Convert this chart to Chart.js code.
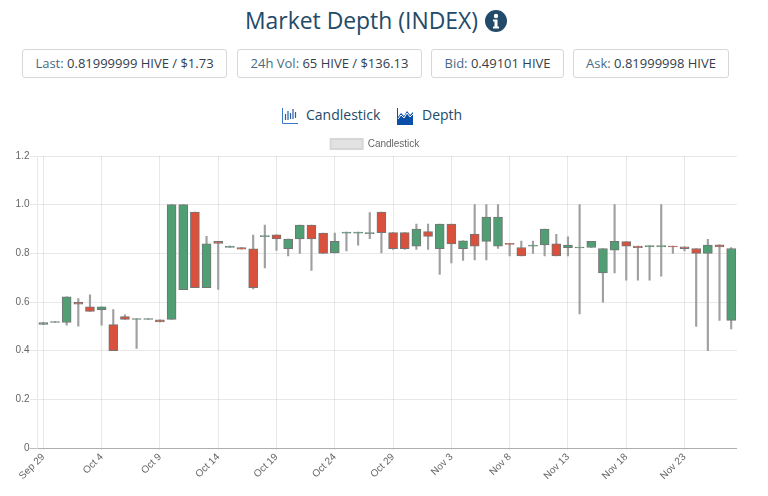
<!DOCTYPE html>
<html>
<head>
<meta charset="utf-8">
<title>Market Depth (INDEX)</title>
<script src="https://cdn.jsdelivr.net/npm/chart.js@4/dist/chart.umd.min.js"></script>
<style>
  html, body { margin: 0; padding: 0; background: #fff; overflow: hidden; }
  body { width: 768px; height: 496px; position: relative; font-family: "Open Sans", sans-serif; color: #234a68; }
  .title { position: absolute; left: 245px; top: 3px; font-size: 22.9px; line-height: 36px; white-space: nowrap; color: #234a68; }
  .info { position: absolute; left: 485px; top: 10px; }
  .stat { position: absolute; top: 49px; height: 27px; line-height: 27px; border: 1px solid #d5d8da; border-radius: 3px; text-align: center; font-size: 13px; color: #33404c; white-space: nowrap; }
  .stat span { color: #4a6b85; }
  .tab { position: absolute; top: 104px; font-size: 14px; line-height: 22px; color: #234a68; white-space: nowrap; }
  #chartWrap { position: absolute; left: 13px; top: 137px; }
</style>
</head>
<body>
<div class="title">Market Depth (INDEX)</div>
<svg class="info" width="22" height="22" viewBox="0 0 22 22">
  <circle cx="11" cy="11" r="11" fill="#234a68"/>
  <circle cx="11" cy="6" r="2.2" fill="#fff"/>
  <path d="M8 9.5h4.5v7H14v2H8v-2h1.5v-5H8z" fill="#fff"/>
</svg>

<div class="stat" style="left:22px;width:203px"><span>Last:</span> 0.81999999 HIVE / $1.73</div>
<div class="stat" style="left:237px;width:183px"><span>24h Vol:</span> 65 HIVE / $136.13</div>
<div class="stat" style="left:431px;width:131px"><span>Bid:</span> 0.49101 HIVE</div>
<div class="stat" style="left:573px;width:154px"><span>Ask:</span> 0.81999998 HIVE</div>

<svg style="position:absolute;left:282px;top:108px" width="16" height="17" viewBox="0 0 16 17">
  <path d="M0.5 0v15.5H16" fill="none" stroke="#3a78c8" stroke-width="1"/>
  <path d="M3.5 6v6M6 3v9M8.5 5v6M11 1v10M13.5 4v6" stroke="#2a5fa8" stroke-width="1.2"/>
</svg>
<div class="tab" style="left:306px">Candlestick</div>
<svg style="position:absolute;left:397px;top:108px" width="16" height="17" viewBox="0 0 16 17">
  <path d="M0 0h1v9l3-4 3 3 3-5 3 4 3-3v13H0z" fill="#0b4fa8"/>
  <path d="M1 11l3-4 3 3 3-5 3 4 3-3" fill="none" stroke="#fff" stroke-width="1"/>
</svg>
<div class="tab" style="left:422px">Depth</div>

<div id="chartWrap"><canvas id="candles" width="724" height="346"></canvas></div>

<script>
(() => {
  'use strict';

  /* ===== Data ===== */
  const labels = [
    'Sep 29', 'Sep 30', 'Oct 1', 'Oct 2', 'Oct 3', 'Oct 4', 'Oct 5', 'Oct 6', 'Oct 7', 'Oct 8',
    'Oct 9', 'Oct 10', 'Oct 11', 'Oct 12', 'Oct 13', 'Oct 14', 'Oct 15', 'Oct 16', 'Oct 17', 'Oct 18',
    'Oct 19', 'Oct 20', 'Oct 21', 'Oct 22', 'Oct 23', 'Oct 24', 'Oct 25', 'Oct 26', 'Oct 27', 'Oct 28',
    'Oct 29', 'Oct 30', 'Oct 31', 'Nov 1', 'Nov 2', 'Nov 3', 'Nov 4', 'Nov 5', 'Nov 6', 'Nov 7',
    'Nov 8', 'Nov 9', 'Nov 10', 'Nov 11', 'Nov 12', 'Nov 13', 'Nov 14', 'Nov 15', 'Nov 16', 'Nov 17',
    'Nov 18', 'Nov 19', 'Nov 20', 'Nov 21', 'Nov 22', 'Nov 23', 'Nov 24', 'Nov 25', 'Nov 26', 'Nov 27'
  ];
  const opens = [
    0.508, 0.516, 0.516, 0.599, 0.580, 0.569, 0.507, 0.540, 0.529, 0.529,
    0.527, 0.529, 0.651, 0.970, 0.659, 0.849, 0.824, 0.824, 0.819, 0.869,
    0.876, 0.819, 0.859, 0.916, 0.883, 0.802, 0.883, 0.883, 0.881, 0.970,
    0.885, 0.885, 0.830, 0.889, 0.819, 0.920, 0.819, 0.879, 0.849, 0.830,
    0.841, 0.824, 0.830, 0.835, 0.839, 0.823, 0.822, 0.824, 0.720, 0.813,
    0.848, 0.830, 0.828, 0.828, 0.830, 0.827, 0.820, 0.800, 0.835, 0.525
  ];
  const closes = [
    0.516, 0.520, 0.621, 0.591, 0.562, 0.580, 0.400, 0.529, 0.532, 0.532,
    0.518, 1.000, 1.000, 0.659, 0.839, 0.841, 0.830, 0.817, 0.659, 0.873,
    0.859, 0.859, 0.916, 0.859, 0.800, 0.849, 0.887, 0.887, 0.885, 0.885,
    0.819, 0.819, 0.900, 0.870, 0.920, 0.839, 0.852, 0.830, 0.949, 0.949,
    0.837, 0.790, 0.834, 0.900, 0.790, 0.834, 0.826, 0.849, 0.820, 0.849,
    0.830, 0.823, 0.832, 0.832, 0.826, 0.819, 0.800, 0.834, 0.826, 0.820
  ];
  const highs = [
    0.516, 0.520, 0.621, 0.614, 0.630, 0.580, 0.569, 0.548, 0.532, 0.532,
    0.527, 1.000, 1.000, 0.970, 0.870, 0.849, 0.830, 0.824, 0.875, 0.916,
    0.876, 0.859, 0.916, 0.916, 0.883, 0.883, 0.887, 0.887, 0.968, 0.970,
    0.885, 0.885, 0.920, 0.920, 0.920, 0.920, 0.852, 1.000, 1.000, 1.000,
    0.841, 0.850, 0.850, 0.900, 0.878, 0.868, 1.000, 0.849, 0.820, 1.000,
    0.848, 0.830, 0.832, 1.000, 0.830, 0.827, 0.820, 0.858, 0.835, 0.824
  ];
  const lows = [
    0.508, 0.516, 0.505, 0.501, 0.562, 0.505, 0.400, 0.529, 0.410, 0.529,
    0.518, 0.529, 0.651, 0.659, 0.659, 0.652, 0.824, 0.817, 0.654, 0.740,
    0.812, 0.790, 0.800, 0.730, 0.800, 0.802, 0.810, 0.834, 0.860, 0.802,
    0.816, 0.816, 0.816, 0.816, 0.714, 0.761, 0.771, 0.773, 0.773, 0.820,
    0.790, 0.790, 0.800, 0.790, 0.790, 0.790, 0.551, 0.824, 0.600, 0.720,
    0.690, 0.690, 0.690, 0.706, 0.800, 0.810, 0.500, 0.400, 0.525, 0.490
  ];

  const UP = '#4f9e74';
  const DOWN = '#d9503c';
  const AXIS_TEXT = '#666';
  const GRID = 'rgba(0,0,0,0.09)';
  const FONT = '"Liberation Sans", Arial, sans-serif';

  /* ===== Chart ===== */
  new Chart(document.getElementById('candles'), {
    type: 'bar',
    data: {
      labels,
      datasets: [
        {
          label: 'Candlestick',
          data: opens.map((o, i) => [o, closes[i]]),
          backgroundColor: opens.map((o, i) => (closes[i] >= o ? UP : DOWN)),
          borderColor: '#757575',
          borderWidth: 1,
          borderSkipped: false,
          barThickness: 9,
          grouped: false,
          order: 1
        },
        {
          label: 'Wick',
          data: lows.map((l, i) => [l, highs[i]]),
          backgroundColor: '#a0a0a0',
          borderWidth: 0,
          barThickness: 1.5,
          grouped: false,
          order: 2
        }
      ]
    },
    options: {
      responsive: false,
      animation: false,
      plugins: {
        tooltip: { enabled: false },
        legend: {
          position: 'top',
          maxHeight: 19,
          labels: {
            boxWidth: 32,
            boxHeight: 10,
            padding: 2,
            color: AXIS_TEXT,
            font: { family: FONT, size: 10 },
            generateLabels: () => [{
              text: 'Candlestick',
              fillStyle: '#e2e2e2',
              strokeStyle: '#d6d6d6',
              lineWidth: 2,
              fontColor: AXIS_TEXT,
              datasetIndex: 0
            }]
          }
        }
      },
      scales: {
        x: {
          offset: true,
          afterBuildTicks: axis => {
            axis.ticks = axis.ticks.filter((t, i) => i % 5 === 0);
          },
          grid: { offset: false, color: GRID, tickLength: 2 },
          border: { color: GRID },
          ticks: {
            autoSkip: false,
            maxRotation: 45,
            minRotation: 45,
            color: AXIS_TEXT,
            padding: 1,
            font: { family: FONT, size: 10 }
          }
        },
        y: {
          min: 0,
          max: 1.2,
          afterFit: axis => { axis.width = 24.5; },
          grid: {
            color: ctx => (ctx.tick.value === 0 ? 'rgba(0,0,0,0.25)' : GRID),
            tickLength: 8
          },
          border: { color: GRID },
          ticks: {
            stepSize: 0.2,
            color: AXIS_TEXT,
            padding: 0,
            font: { family: FONT, size: 10 },
            callback: v => (v === 0 ? '0' : v.toFixed(1))
          }
        }
      }
    }
  });
})();
</script>
</body>
</html>
